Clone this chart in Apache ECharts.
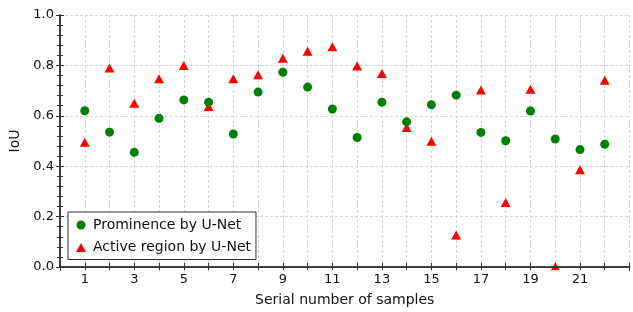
<!DOCTYPE html>
<html>
<head>
<meta charset="utf-8">
<script src="https://cdn.jsdelivr.net/npm/echarts@6/dist/echarts.min.js"></script>
<style>
html, body { margin: 0; padding: 0; background: #fff; }
#chart { width: 633px; height: 312px; }
</style>
</head>
<body>
<div id="chart"></div>
<script>
// samples 1..22
var samples = [1, 2, 3, 4, 5, 6, 7, 8, 9, 10, 11, 12, 13, 14, 15, 16, 17, 18, 19, 20, 21, 22];
var prominence = [0.620, 0.535, 0.455, 0.590, 0.663, 0.654, 0.528, 0.694, 0.773, 0.714, 0.627,
                  0.514, 0.654, 0.576, 0.644, 0.682, 0.534, 0.501, 0.619, 0.508, 0.466, 0.487];
var activeRegion = [0.495, 0.790, 0.650, 0.747, 0.800, 0.637, 0.747, 0.763, 0.828, 0.856, 0.874,
                    0.798, 0.768, 0.554, 0.499, 0.127, 0.702, 0.256, 0.705, 0.000, 0.386, 0.741];
var xLabels = [1, 3, 5, 7, 9, 11, 13, 15, 17, 19, 21];
var yTicks = [0, 0.2, 0.4, 0.6, 0.8, 1.0];

var font = 'DejaVu Sans';
var axisColor = '#333';
var gridLine = { show: true, lineStyle: { color: '#d6d6d6', type: [3, 2], width: 1 } };

function pairs(vals) {
    return samples.map(function (s, i) { return [s, vals[i]]; });
}

var myChart = echarts.init(document.getElementById('chart'));
var option = {
    animation: false,
    backgroundColor: '#fff',
    textStyle: { fontFamily: font },
    grid: { left: 60, right: 3.5, top: 15, bottom: 42.5 },
    legend: {
        orient: 'vertical',
        left: 68,
        top: 212,
        backgroundColor: '#fff',
        borderColor: '#333',
        borderWidth: 1,
        borderRadius: 0,
        padding: [5, 5, 4, 8],
        itemWidth: 10,
        itemHeight: 9,
        itemGap: 6.5,
        textStyle: { fontFamily: font, fontSize: 14, color: '#111', lineHeight: 16, padding: [0, 0, 0, 2] },
        data: [
            { name: 'Prominence by U-Net', icon: 'circle' },
            { name: 'Active region by U-Net', icon: 'triangle' }
        ]
    },
    // bottom/left axes sit above everything; top/right axes carry the dashed grid underneath
    xAxis: [{
        type: 'value',
        min: 0, max: 23, interval: 1,
        name: 'Serial number of samples',
        nameLocation: 'middle',
        nameGap: 26,
        nameTextStyle: { fontFamily: font, fontSize: 14, color: '#111' },
        axisLine: { show: true, lineStyle: { color: axisColor, width: 1.5 } },
        axisTick: { show: true, inside: true, length: 4, lineStyle: { color: axisColor } },
        axisLabel: {
            fontFamily: font, fontSize: 13, color: '#111', margin: 6,
            formatter: function (v) { return xLabels.indexOf(v) >= 0 ? String(v) : ''; }
        },
        splitLine: { show: false },
        z: 200
    }, {
        type: 'value',
        position: 'top',
        min: 0, max: 23, interval: 1,
        axisLine: { show: true, lineStyle: { color: axisColor, width: 1.5 } },
        axisTick: { show: true, inside: true, length: 4, lineStyle: { color: axisColor } },
        axisLabel: { show: false },
        splitLine: gridLine,
        z: 0
    }],
    yAxis: [{
        type: 'value',
        min: yTicks[0], max: yTicks[yTicks.length - 1], interval: 0.2,
        name: 'IoU',
        nameLocation: 'middle',
        nameGap: 31,
        nameTextStyle: { fontFamily: font, fontSize: 14, color: '#111' },
        axisLine: { show: true, lineStyle: { color: axisColor, width: 1.5 } },
        axisTick: { show: true, inside: true, length: 4, lineStyle: { color: axisColor } },
        minorTick: { show: true, splitNumber: 5, length: 3, lineStyle: { color: axisColor } },
        axisLabel: {
            fontFamily: font, fontSize: 13, color: '#111', margin: 6,
            formatter: function (v) { return v.toFixed(1); }
        },
        splitLine: { show: false },
        z: 200
    }, {
        type: 'value',
        position: 'right',
        min: yTicks[0], max: yTicks[yTicks.length - 1], interval: 0.2,
        axisLine: { show: true, lineStyle: { color: axisColor, width: 1.5 } },
        axisTick: { show: true, inside: true, length: 4, lineStyle: { color: axisColor } },
        minorTick: { show: true, splitNumber: 5, length: 3, lineStyle: { color: axisColor } },
        axisLabel: { show: false },
        splitLine: gridLine,
        z: 0
    }],
    // white strip under the bottom axis, so markers sitting on 0 look clipped
    graphic: [{
        type: 'rect',
        left: 62, top: 270.3,
        shape: { width: 566, height: 5 },
        style: { fill: '#fff' },
        silent: true,
        z: 100
    }],
    series: [{
        name: 'Prominence by U-Net',
        type: 'scatter',
        symbol: 'circle',
        symbolSize: 9,
        itemStyle: { color: '#008000', opacity: 1 },
        data: pairs(prominence),
        z: 3
    }, {
        name: 'Active region by U-Net',
        type: 'scatter',
        symbol: 'triangle',
        symbolSize: [10, 9],
        itemStyle: { color: '#ff0000', opacity: 1 },
        data: pairs(activeRegion),
        z: 2
    }]
};
myChart.setOption(option);
</script>
</body>
</html>
